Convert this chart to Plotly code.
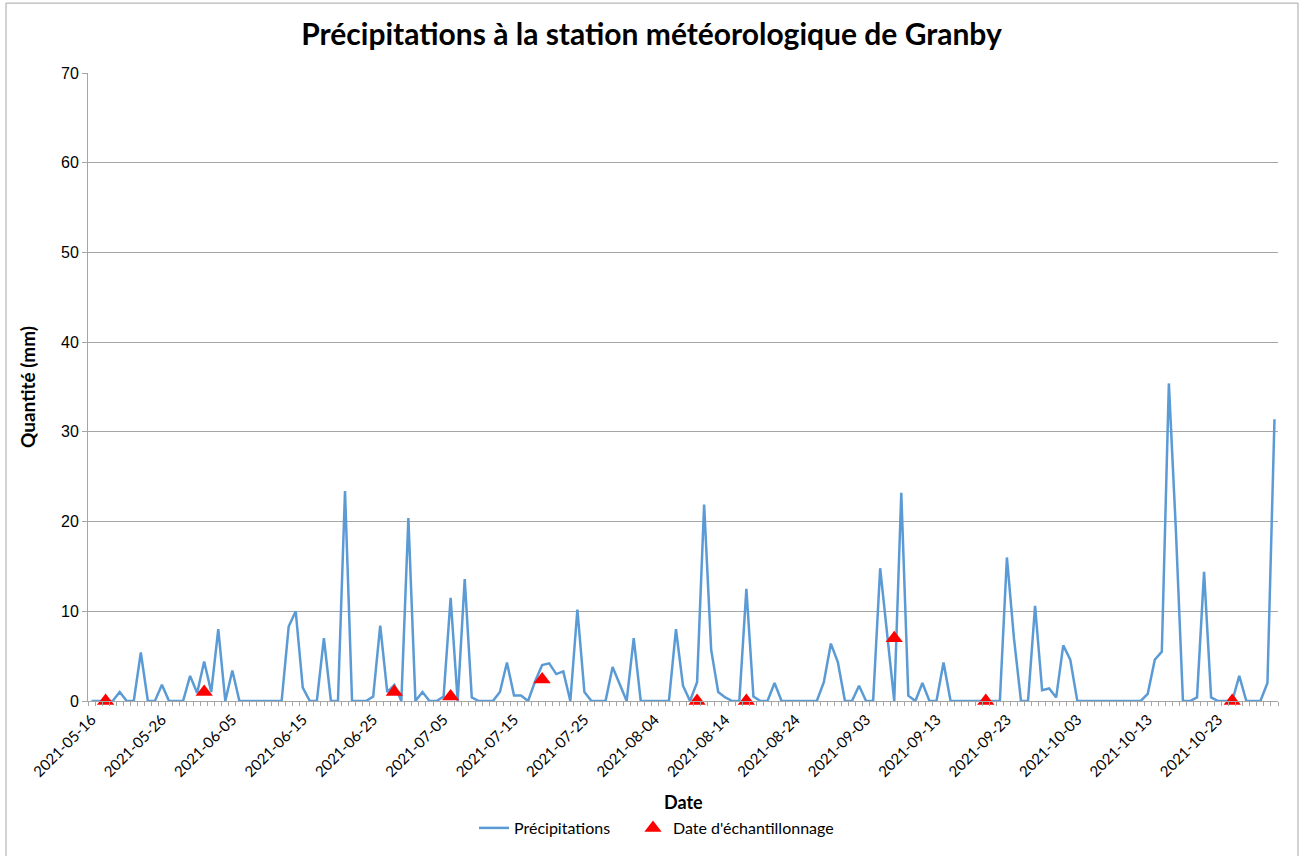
import pandas as pd
import plotly.graph_objects as go

start_date = "2021-05-16"
precip_mm = [
    0, 0, 0, 0, 1.0, 0, 0, 5.4, 0, 0,            # d0-9
    1.8, 0, 0, 0, 2.8, 0.9, 4.4, 1.0, 8.0, 0,    # d10-19
    3.4, 0, 0, 0, 0, 0, 0, 0, 8.3, 10.0,         # d20-29
    1.5, 0, 0, 7.0, 0, 0, 23.4, 0, 0, 0,         # d30-39
    0.5, 8.4, 1.0, 1.8, 0, 20.4, 0, 1.0, 0, 0,   # d40-49
    0.5, 11.5, 0, 13.6, 0.4, 0, 0, 0, 1.0, 4.3,  # d50-59
    0.6, 0.6, 0, 2.2, 4.0, 4.2, 3.0, 3.3, 0, 10.2,  # d60-69
    1.0, 0, 0, 0, 3.8, 1.9, 0, 7.0, 0, 0,        # d70-79
    0, 0, 0, 8.0, 1.7, 0, 2.1, 21.9, 5.7, 1.0,   # d80-89
    0.4, 0, 0, 12.5, 0.5, 0, 0, 2.0, 0, 0,       # d90-99
    0, 0, 0, 0, 2.1, 6.4, 4.3, 0, 0, 1.7,        # d100-109
    0, 0, 14.8, 7.5, 0, 23.2, 0.6, 0, 2.0, 0,    # d110-119
    0, 4.3, 0, 0, 0, 0, 0, 0, 0, 0,              # d120-129
    16.0, 7.0, 0, 0, 10.6, 1.2, 1.4, 0.4, 6.2, 4.6,  # d130-139
    0, 0, 0, 0, 0, 0, 0, 0, 0, 0,                # d140-149
    0.8, 4.6, 5.5, 35.4, 19.0, 0, 0, 0.4, 14.4, 0.4,  # d150-159
    0, 0, 0, 2.8, 0, 0, 0, 2.0, 31.4,            # d160-168
]
assert len(precip_mm) == 169
dates = pd.date_range(start_date, periods=len(precip_mm), freq="D")

sample_dates = ["2021-05-18", "2021-06-01", "2021-06-28", "2021-07-06", "2021-07-19",
                "2021-08-10", "2021-08-17", "2021-09-07", "2021-09-20", "2021-10-25"]
sample_values = [0, 1.0, 1.0, 0.5, 2.4, 0, 0, 7.0, 0, 0]

y_ticks = [0, 10, 20, 30, 40, 50, 60, 70]

FONT = "Lato"
GRID = "#a6a6a6"

fig = go.Figure()
fig.add_trace(go.Scatter(
    x=dates, y=precip_mm, mode="lines", name="Précipitations",
    line=dict(color="#5B9BD5", width=2.5), cliponaxis=False, legend="legend",
))
fig.add_trace(go.Scatter(
    x=pd.to_datetime(sample_dates), y=sample_values, mode="markers",
    name="Date d'échantillonnage",
    marker=dict(symbol="triangle-up", color="#FF0000", size=15), cliponaxis=False,
    legend="legend2",
))

leg_y = (702 - 828) / 629
fig.update_layout(
    width=1303, height=856,
    margin=dict(l=88, r=25, t=73, b=154),
    paper_bgcolor="white", plot_bgcolor="white",
    font=dict(family=FONT, size=14, color="black"),
    title=dict(text="<b>Précipitations à la station météorologique de Granby</b>",
               x=0.5, xref="container", xanchor="center", y=1 - 34 / 856, yanchor="middle",
               font=dict(size=30, family=FONT, color="black")),
    showlegend=True,
    legend=dict(orientation="h", x=(474 - 88) / 1190, xanchor="left", y=leg_y,
                yanchor="middle", font=dict(size=16, family=FONT), itemwidth=30,
                bgcolor="rgba(0,0,0,0)"),
    legend2=dict(orientation="h", x=(633 - 88) / 1190, xanchor="left", y=leg_y,
                 yanchor="middle", font=dict(size=16, family=FONT), itemwidth=30,
                 bgcolor="rgba(0,0,0,0)"),
)

fig.update_xaxes(
    type="date",
    range=["2021-05-15 12:00", "2021-10-31 12:00"],
    tick0=start_date, dtick=10 * 86400000, tickformat="%Y-%m-%d",
    tickangle=-45, ticks="", showgrid=False,
    showline=True, linecolor=GRID, linewidth=1,
    tickfont=dict(size=15, family=FONT), ticklabelstandoff=3,
    minor=dict(ticks="outside", ticklen=4, tickcolor=GRID, dtick=86400000,
               tick0="2021-05-15 12:00", showgrid=False),
)
fig.update_yaxes(
    range=[0, 70], tickvals=y_ticks, ticks="outside", ticklen=5, tickcolor=GRID,
    showgrid=True, gridcolor=GRID, gridwidth=1,
    showline=True, linecolor=GRID, linewidth=1,
    zeroline=False,
    tickfont=dict(size=16, family="Liberation Sans"),
)

fig.add_annotation(text="<b>Quantité (mm)</b>", xref="paper", yref="paper",
                   x=(27 - 88) / 1190, y=0.5, xanchor="center", yanchor="middle",
                   textangle=-90, showarrow=False, font=dict(size=19, family=FONT))
fig.add_annotation(text="<b>Date</b>", xref="paper", yref="paper",
                   x=0.5, y=(702 - 803) / 629, xanchor="center", yanchor="middle",
                   showarrow=False, font=dict(size=18, family=FONT))

fig.add_shape(type="rect", xref="paper", yref="paper",
              x0=(6 - 88) / 1190, x1=(1298 - 88) / 1190,
              y0=-0.26, y1=(702 - 3) / 629,
              line=dict(color="#a6a6a6", width=1), fillcolor="rgba(0,0,0,0)", layer="below")

fig.write_html("out.html", config={"displayModeBar": False},
               post_script="document.body.style.margin='0';document.body.style.padding='0';")
